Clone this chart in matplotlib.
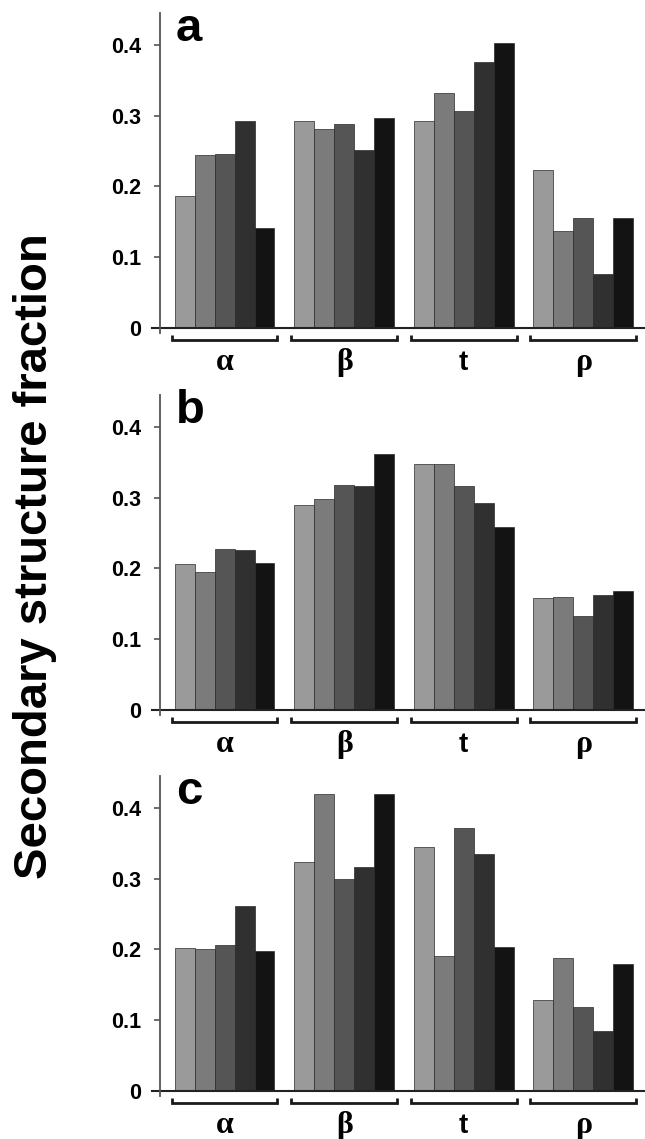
"""Secondary structure fraction bar chart (panels a, b, c)."""

import numpy as np
import matplotlib

matplotlib.use("Agg")
import matplotlib.pyplot as plt

matplotlib.rcParams["font.family"] = ["Liberation Sans", "DejaVu Sans"]

groups = ["α", "β", "t", "ρ"]
panel_labels = ["a", "b", "c"]

# five bars per structure type, light to dark
panel_a = [
    [0.187, 0.244, 0.246, 0.292, 0.141],
    [0.292, 0.281, 0.288, 0.251, 0.297],
    [0.292, 0.332, 0.306, 0.376, 0.402],
    [0.223, 0.137, 0.155, 0.077, 0.155],
]
panel_b = [
    [0.206, 0.195, 0.228, 0.226, 0.208],
    [0.289, 0.298, 0.318, 0.316, 0.361],
    [0.347, 0.347, 0.317, 0.293, 0.259],
    [0.158, 0.159, 0.133, 0.162, 0.168],
]
panel_c = [
    [0.202, 0.200, 0.206, 0.261, 0.197],
    [0.323, 0.419, 0.300, 0.316, 0.419],
    [0.344, 0.190, 0.371, 0.335, 0.203],
    [0.129, 0.188, 0.119, 0.085, 0.179],
]

yticks = [0, 0.1, 0.2, 0.3, 0.4]
ytick_labels = ["0", "0.1", "0.2", "0.3", "0.4"]

bar_colors = ["#9a9a9a", "#7b7b7b", "#555555", "#303030", "#131313"]

fig = plt.figure(figsize=(6.45, 11.39), dpi=100)

bottoms = [0.7076, 0.3723, 0.0378]
height = 0.281

for pdata, letter, bottom in zip([panel_a, panel_b, panel_c], panel_labels, bottoms):
    ax = fig.add_axes([0.248, bottom, 0.752, height])
    vals = np.array(pdata)
    for g in range(len(groups)):
        x0 = 6 * g
        xs = x0 + np.arange(5)
        ax.bar(xs, vals[g], width=1.0, color=bar_colors,
               edgecolor="#2a2a2a", linewidth=0.5)
        # bracket under each group
        ax.plot([x0 - 0.65, x0 - 0.65, x0 + 4.65, x0 + 4.65],
                [-0.010, -0.017, -0.017, -0.010],
                color="#1a1a1a", lw=2.0, clip_on=False,
                solid_capstyle="butt", solid_joinstyle="miter")
        if groups[g] == "t":
            ax.text(x0 + 2, -0.049, "t", ha="center", va="center",
                    fontsize=20, fontweight="bold", family="Liberation Sans")
        else:
            ax.text(x0 + 2, -0.049, groups[g], ha="center", va="center",
                    fontsize=23, fontweight="bold",
                    family=["Liberation Serif", "DejaVu Serif"])

    ax.set_xlim(-1.25, 23.1)
    ax.set_ylim(-0.007, 0.445)
    ax.axhline(0, xmin=-0.016, xmax=1, color="#222222", lw=1.5, clip_on=False)

    for s in ["top", "right", "bottom"]:
        ax.spines[s].set_visible(False)
    ax.spines["left"].set_color("#555555")
    ax.spines["left"].set_linewidth(1.3)

    ax.set_xticks([])
    ax.set_yticks(yticks)
    ax.set_yticklabels(ytick_labels, fontsize=15.5, fontweight="bold")
    ax.tick_params(axis="y", length=4.5, width=1.2, color="#555555", pad=9)

    ax.text(-0.45, 0.405, letter, ha="left", va="baseline",
            fontsize=34, fontweight="bold")

fig.text(0.054, 0.512, "Secondary structure fraction", rotation=90,
         ha="center", va="center", fontsize=34, fontweight="bold")

fig.savefig("out.png", dpi=100)
plt.close(fig)
